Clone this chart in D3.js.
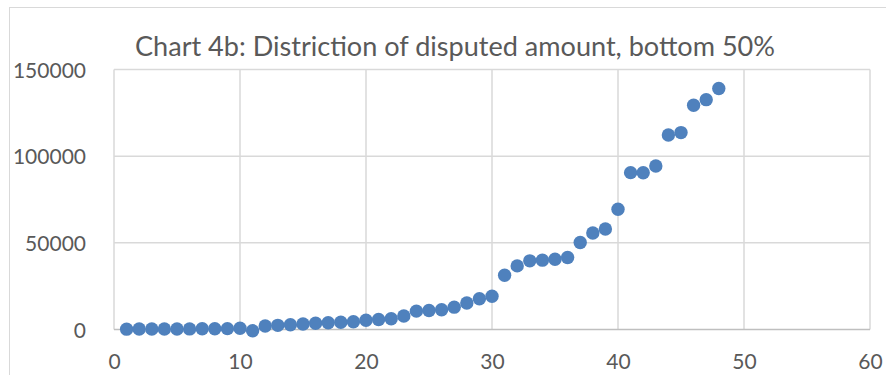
<!DOCTYPE html>
<html>
<head>
<meta charset="utf-8">
<script src="https://cdn.jsdelivr.net/npm/d3@7"></script>
<style>
  html, body { margin: 0; padding: 0; background: #fff; }
  svg { display: block; }
  text { font-family: Lato, "Open Sans", sans-serif; fill: #595959; }
</style>
</head>
<body>
<div id="chart"></div>
<script>
// Rank of each record in the bottom half (x) and its disputed amount (y)
const ranks = d3.range(1, 49);
const amounts = [
  200, 250, 250, 300, 300, 350, 400, 450, 500, 700,
  -700, 2000, 2400, 2700, 3200, 3600, 3900, 4200, 4500, 5300,
  5800, 6200, 7800, 10600, 11000, 11400, 12900, 15300, 17700, 19200,
  31300, 36700, 39600, 40000, 40500, 41500, 50200, 55700, 58000, 69400,
  90500, 90400, 94300, 112200, 113600, 129400, 132600, 139000
];
const xTicks = [0, 10, 20, 30, 40, 50, 60];
const yTicks = [0, 50000, 100000, 150000];
const title = "Chart 4b: Distriction of disputed amount, bottom 50%";

const W = 886, H = 375;
const plot = { left: 114, right: 870, top: 69.5, bottom: 329.5 };

const svg = d3.select("#chart").append("svg")
  .attr("width", W).attr("height", H);

// outer chart frame
svg.append("rect")
  .attr("x", 9.5).attr("y", 7.5)
  .attr("width", W + 20).attr("height", H + 20)
  .attr("fill", "none").attr("stroke", "#d9d9d9").attr("stroke-width", 1);

const x = d3.scaleLinear().domain([0, 60]).range([plot.left, plot.right]);
const y = d3.scaleLinear().domain([0, 150000]).range([plot.bottom, plot.top]);

// gridlines
const grid = svg.append("g");
grid.selectAll("line.v").data(xTicks).join("line")
  .attr("x1", d => x(d)).attr("x2", d => x(d))
  .attr("y1", plot.top).attr("y2", plot.bottom)
  .attr("stroke", "#d9d9d9").attr("stroke-width", 1.5);
grid.selectAll("line.h").data(yTicks).join("line")
  .attr("x1", plot.left).attr("x2", plot.right)
  .attr("y1", d => y(d)).attr("y2", d => y(d))
  .attr("stroke", d => d === 0 ? "#bfbfbf" : "#d9d9d9").attr("stroke-width", 1.5);

// axes (labels only, lines drawn as grid)
const xAxis = d3.axisBottom(x).tickValues(xTicks).tickSize(0).tickPadding(0);
svg.append("g").attr("transform", `translate(0,${plot.bottom})`).call(xAxis)
  .call(g => g.select(".domain").remove())
  .call(g => g.selectAll("text")
    .attr("y", 39).attr("dy", 0)
    .style("font-size", "21px").style("fill", "#595959")
    .style("font-family", "Lato, 'Open Sans', sans-serif"));

const yAxis = d3.axisLeft(y).tickValues(yTicks).tickSize(0).tickPadding(0)
  .tickFormat(d3.format("d"));
svg.append("g").attr("transform", `translate(86,0)`).call(yAxis)
  .call(g => g.select(".domain").remove())
  .call(g => g.selectAll("text")
    .attr("x", 0).attr("dy", "0.36em")
    .style("font-size", "21px").style("fill", "#595959")
    .style("font-family", "Lato, 'Open Sans', sans-serif"));

// title
svg.append("text")
  .attr("x", 135).attr("y", 56)
  .attr("textLength", 640).attr("lengthAdjust", "spacingAndGlyphs")
  .style("font-size", "27px")
  .text(title);

// points
svg.append("g").selectAll("circle")
  .data(ranks.map((r, i) => ({ r, v: amounts[i] })))
  .join("circle")
  .attr("cx", d => x(d.r))
  .attr("cy", d => y(d.v))
  .attr("r", 6.7)
  .attr("fill", "#4f81bd");
</script>
</body>
</html>
